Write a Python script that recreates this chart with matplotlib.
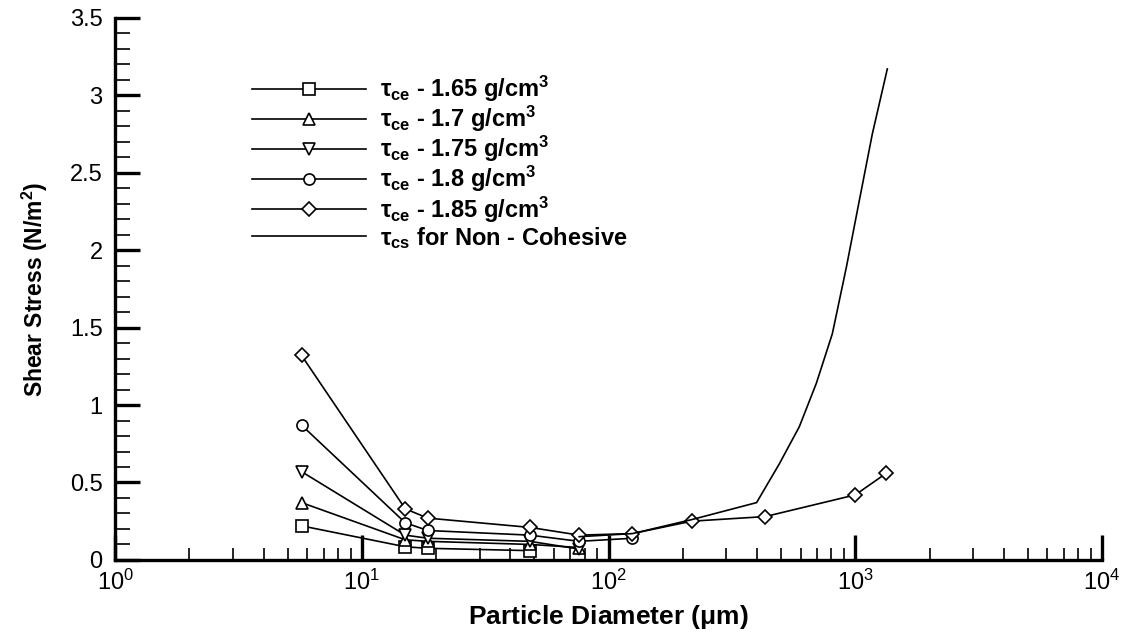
import numpy as np
import matplotlib
matplotlib.use('Agg')
import matplotlib.pyplot as plt
import matplotlib.transforms as mtransforms
from matplotlib.ticker import MultipleLocator, LogLocator, NullFormatter

plt.rcParams['font.family'] = ['Liberation Sans', 'DejaVu Sans']
plt.rcParams['mathtext.fontset'] = 'custom'
plt.rcParams['mathtext.rm'] = 'Liberation Sans'
plt.rcParams['mathtext.it'] = 'Liberation Sans:italic'
plt.rcParams['mathtext.bf'] = 'Liberation Sans:bold'

# particle diameters (um)
d_all = [5.7, 15, 18.5, 48, 76, 125, 217, 432, 1000, 1336]

# critical erosion stress for each bulk density (N/m2)
tau_165 = [0.22, 0.085, 0.075, 0.06]
tau_170 = [0.37, 0.13, 0.12, 0.10, 0.08]
tau_175 = [0.57, 0.16, 0.14, 0.12, 0.07]
tau_180 = [0.87, 0.24, 0.19, 0.16, 0.12, 0.14]
tau_185 = [1.32, 0.33, 0.27, 0.21, 0.16, 0.17, 0.25, 0.28, 0.42, 0.56]

# non-cohesive curve
d_nc = [76, 125, 217, 398, 492, 593, 695, 807, 920, 1038, 1172, 1348]
tau_nc = [0.15, 0.17, 0.26, 0.37, 0.62, 0.86, 1.14, 1.46, 1.89, 2.32, 2.75, 3.17]

series = [
    (tau_165, 's', r'$\mathbf{\tau_{ce}}$ - 1.65 g/cm$\mathbf{^3}$'),
    (tau_170, '^', r'$\mathbf{\tau_{ce}}$ - 1.7 g/cm$\mathbf{^3}$'),
    (tau_175, 'v', r'$\mathbf{\tau_{ce}}$ - 1.75 g/cm$\mathbf{^3}$'),
    (tau_180, 'o', r'$\mathbf{\tau_{ce}}$ - 1.8 g/cm$\mathbf{^3}$'),
    (tau_185, 'D', r'$\mathbf{\tau_{ce}}$ - 1.85 g/cm$\mathbf{^3}$'),
]

fig = plt.figure(figsize=(11.28, 6.37), dpi=100)
ax = fig.add_axes([0.102, 0.121, 0.875, 0.851])

for vals, mk, lab in series:
    ms = 7 if mk == 'D' else 8
    ax.plot(d_all[:len(vals)], vals, color='black', lw=1.2, marker=mk,
            markersize=ms, markerfacecolor='white', markeredgecolor='black',
            markeredgewidth=1.2, label=lab)
ax.plot(d_nc, tau_nc, color='black', lw=1.2,
        label=r'$\mathbf{\tau_{cs}}$ for Non - Cohesive')

ax.set_xscale('log')
ax.set_xlim(1, 1e4)
ax.set_ylim(0, 3.5)

ax.spines['top'].set_visible(False)
ax.spines['right'].set_visible(False)
ax.spines['left'].set_linewidth(2.4)
ax.spines['bottom'].set_linewidth(2.4)

ax.yaxis.set_major_locator(MultipleLocator(0.5))
ax.yaxis.set_minor_locator(MultipleLocator(0.1))
ax.xaxis.set_major_locator(LogLocator(base=10, numticks=10))
ax.xaxis.set_minor_locator(LogLocator(base=10, subs=np.arange(2, 10), numticks=20))
ax.xaxis.set_minor_formatter(NullFormatter())
ax.yaxis.set_major_formatter(plt.FuncFormatter(lambda v, p: f'{v:g}'))

ax.tick_params(which='both', direction='in', labelsize=17)
ax.tick_params(axis='y', which='major', length=18, width=2.4, pad=9)
ax.tick_params(axis='y', which='minor', length=11, width=1.2)
ax.tick_params(axis='x', which='major', length=18, width=2.4, pad=7)
ax.tick_params(axis='x', which='minor', length=9, width=1.2)

ax.set_xlabel(r'Particle Diameter ($\mathbf{\mu}$m)', fontsize=19, fontweight='bold', labelpad=6)
ax.set_ylabel(r'Shear Stress (N/m$\mathbf{^2}$)', fontsize=16.5, fontweight='bold', labelpad=14)

leg = ax.legend(loc='upper left', bbox_to_anchor=(0.139, 0.897), frameon=False,
                prop={'weight': 'bold', 'size': 17}, handlelength=4.8,
                handletextpad=0.6, labelspacing=0.0, borderaxespad=0,
                borderpad=0)

# lift the "0" label a little, as in the original
fig.canvas.draw()
lab0 = ax.yaxis.get_major_ticks()[0].label1
lab0.set_transform(lab0.get_transform() +
                   mtransforms.ScaledTranslation(0, 5 / 72, fig.dpi_scale_trans))

fig.savefig('out.png', dpi=100)
